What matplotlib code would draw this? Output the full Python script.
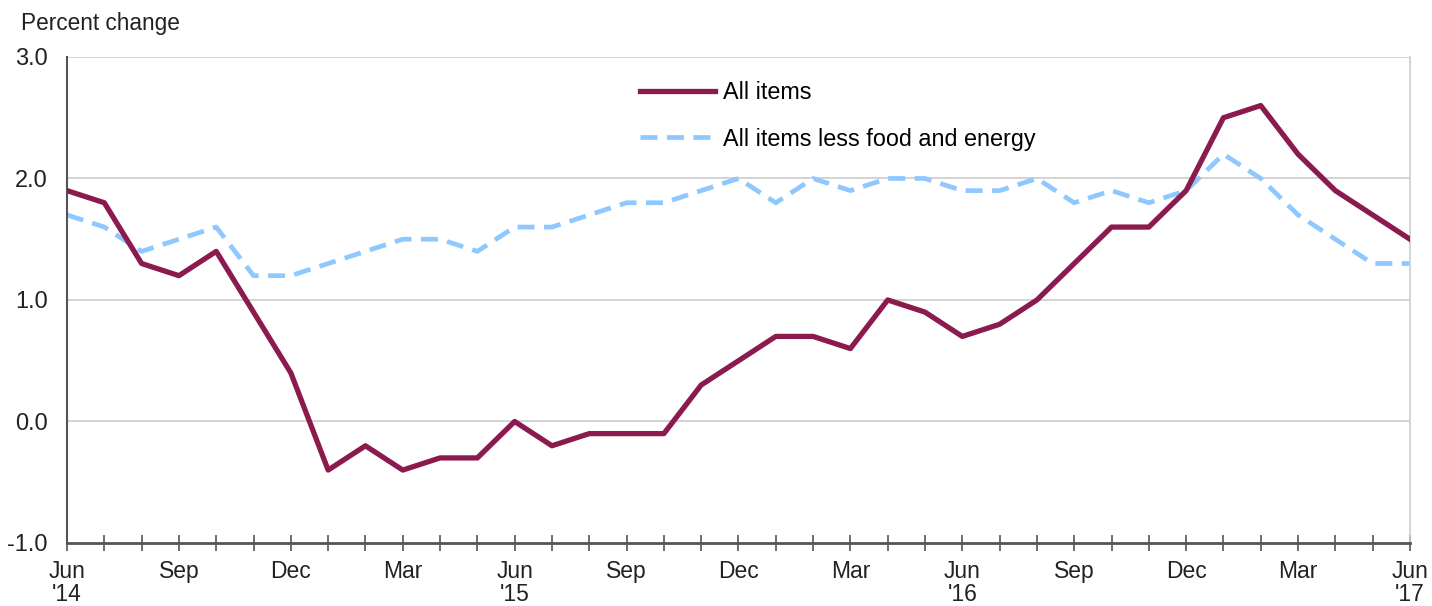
import numpy as np
from matplotlib import pyplot as plt

plt.rcParams['font.family'] = ['Liberation Sans', 'DejaVu Sans']

# monthly 12-month percent change, Jun 2014 .. Jun 2017
months = ["Jun", "Jul", "Aug", "Sep", "Oct", "Nov", "Dec",
          "Jan", "Feb", "Mar", "Apr", "May", "Jun", "Jul", "Aug", "Sep", "Oct", "Nov", "Dec",
          "Jan", "Feb", "Mar", "Apr", "May", "Jun", "Jul", "Aug", "Sep", "Oct", "Nov", "Dec",
          "Jan", "Feb", "Mar", "Apr", "May", "Jun"]
all_items = [1.9, 1.8, 1.3, 1.2, 1.4, 0.9, 0.4,
             -0.4, -0.2, -0.4, -0.3, -0.3, 0.0, -0.2, -0.1, -0.1, -0.1, 0.3, 0.5,
             0.7, 0.7, 0.6, 1.0, 0.9, 0.7, 0.8, 1.0, 1.3, 1.6, 1.6, 1.9,
             2.5, 2.6, 2.2, 1.9, 1.7, 1.5]
core = [1.7, 1.6, 1.4, 1.5, 1.6, 1.2, 1.2,
        1.3, 1.4, 1.5, 1.5, 1.4, 1.6, 1.6, 1.7, 1.8, 1.8, 1.9, 2.0,
        1.8, 2.0, 1.9, 2.0, 2.0, 1.9, 1.9, 2.0, 1.8, 1.9, 1.8, 1.9,
        2.2, 2.0, 1.7, 1.5, 1.3, 1.3]
label_pos = [0, 3, 6, 9, 12, 15, 18, 21, 24, 27, 30, 33, 36]
label_txt = ["Jun\n'14", "Sep", "Dec", "Mar", "Jun\n'15", "Sep", "Dec", "Mar",
             "Jun\n'16", "Sep", "Dec", "Mar", "Jun\n'17"]

x = np.arange(len(months))

fig = plt.figure(figsize=(14.32, 6.06), dpi=100)
ax = fig.add_axes([0.0468, 0.104, 0.9378, 0.802])

for yv in [0.0, 1.0, 2.0, 3.0]:
    ax.axhline(yv, color="#cccccc", lw=1.2, zorder=1)

ax.plot(x, all_items, color="#8b1a4f", lw=3.8, label="All items", zorder=3)
ax.plot(x, core, color="#8ec8ff", lw=3.4, dashes=(3.6, 2.0),
        label="All items less food and energy", zorder=2)

ax.set_xlim(0, 36)
ax.set_ylim(-1.0, 3.0)
ax.set_yticks([-1.0, 0.0, 1.0, 2.0, 3.0])
ax.set_yticklabels(["-1.0", "0.0", "1.0", "2.0", "3.0"])
ax.set_xticks(x)
ax.set_xticklabels([""] * len(x))
ax.set_xticks(label_pos, minor=True)
ax.set_xticklabels(label_txt, minor=True)
ax.xaxis.remove_overlapping_locs = False
for t in ax.get_xticklabels(minor=True):
    t.set_linespacing(1.0)

ax.tick_params(axis="y", length=0, pad=14, labelsize=17, labelcolor="#222222")
ax.tick_params(axis="x", which="major", direction="inout", length=12, width=1.2,
               color="#555555")
ax.tick_params(axis="x", which="minor", length=0, pad=12, labelsize=16.5,
               labelcolor="#222222")

ax.spines["top"].set_visible(False)
ax.spines["right"].set_color("#cccccc")
ax.spines["right"].set_linewidth(1.2)
ax.spines["left"].set_color("#555555")
ax.spines["left"].set_linewidth(1.5)
ax.spines["bottom"].set_color("#555555")
ax.spines["bottom"].set_linewidth(2.0)

fig.text(0.015, 0.962, "Percent change", fontsize=16.3, color="#222222", va="center")

ax.legend(loc="upper left", bbox_to_anchor=(0.427, 0.95), frameon=False,
          fontsize=16.8, handlelength=3.2, handletextpad=0.35, labelspacing=1.0,
          borderpad=0, borderaxespad=0)

plt.savefig("out.png", dpi=100)
